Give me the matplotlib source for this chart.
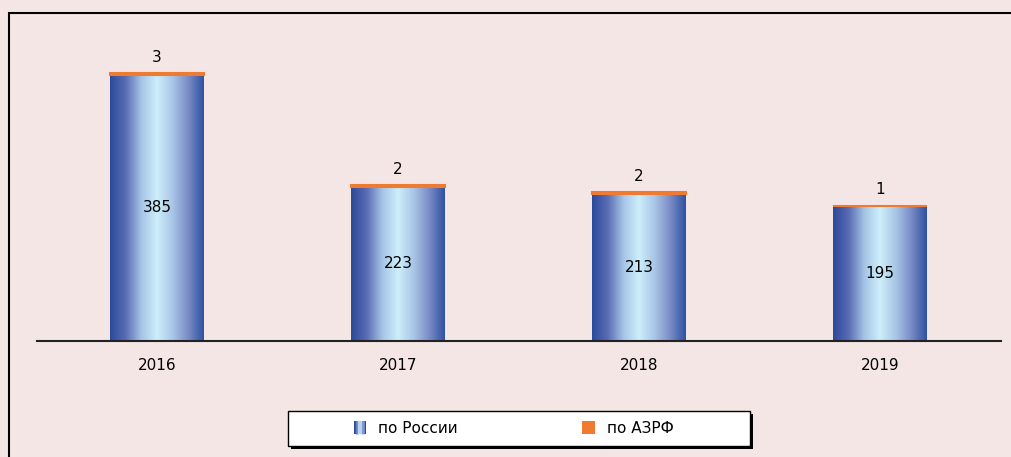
import numpy as np
import matplotlib
matplotlib.use("Agg")
import matplotlib.pyplot as plt
from matplotlib.colors import LinearSegmentedColormap
from matplotlib.patches import Rectangle
from matplotlib.legend_handler import HandlerBase

years = ["2016", "2017", "2018", "2019"]
russia = [385, 223, 213, 195]
azrf = [3, 2, 2, 1]
labels = ["по России", "по АЗРФ"]

W, H = 1011, 457
BG = "#F5E6E6"
ORANGE = "#F07A30"
grad_cmap = LinearSegmentedColormap.from_list(
    "bar", ["#2B4A9B", "#5A6CB3", "#A6C4E6", "#CDEEFA", "#A9C6E6", "#7A8CC6", "#2E52A2"])


class HandlerGradient(HandlerBase):
    def create_artists(self, legend, orig_handle, xdescent, ydescent, width, height, fontsize, trans):
        n = 6
        w = 9.0
        x0 = xdescent + (width - w) / 2
        arts = [Rectangle((x0, -ydescent - 1), w, height + 2, facecolor=grad_cmap(0.0),
                          edgecolor="none", linewidth=0, transform=trans)]
        for i in range(1, n - 1):
            c = grad_cmap(i / (n - 1))
            arts.append(Rectangle((x0 + i * w / n, -ydescent - 1), w / n + 0.5, height + 2,
                                  facecolor=c, edgecolor="none", linewidth=0,
                                  snap=False, transform=trans))
        return arts


class HandlerSquare(HandlerBase):
    def create_artists(self, legend, orig_handle, xdescent, ydescent, width, height, fontsize, trans):
        w = 9.0
        x0 = xdescent + (width - w) / 2
        return [Rectangle((x0, -ydescent - 1), w, height + 2, facecolor=orig_handle.get_facecolor(),
                          edgecolor="none", transform=trans)]


fig = plt.figure(figsize=(W / 100, H / 100), dpi=100)
fig.patch.set_facecolor(BG)
fig.patches.append(Rectangle((9 / W, -0.1), 1.2, (H - 13) / H + 0.1, transform=fig.transFigure,
                             facecolor="none", edgecolor="black", linewidth=1.5, figure=fig))

# legend box with shadow
lx, ly, lw, lh = 288, 411, 462, 35
fig.patches.append(Rectangle(((lx + 3) / W, 1 - (ly + lh + 3) / H), lw / W, lh / H,
                             transform=fig.transFigure, facecolor="black", edgecolor="none", figure=fig))
fig.patches.append(Rectangle((lx / W, 1 - (ly + lh) / H), lw / W, lh / H,
                             transform=fig.transFigure, facecolor="white", edgecolor="black",
                             linewidth=1.0, figure=fig))

ax = fig.add_axes([36.5 / W, 116 / H, 964 / W, 311 / H])
ax.set_facecolor("none")
ymax = 450
x = np.arange(len(years))
bw = 0.39
grad = np.linspace(0, 1, 256).reshape(1, -1)
for xi, r, a in zip(x, russia, azrf):
    ax.imshow(grad, cmap=grad_cmap, extent=[xi - bw / 2, xi + bw / 2, 0, r],
              aspect="auto", zorder=2, interpolation="bilinear")
    ax.bar(xi, a, bw, bottom=r, color=ORANGE, edgecolor=ORANGE, linewidth=1.5, zorder=3)
    ax.text(xi, r / 2, str(r), ha="center", va="center", fontsize=11, zorder=4)
    ax.text(xi, r + a + 12, str(a), ha="center", va="bottom", fontsize=11, zorder=4)

ax.set_xlim(-0.5, len(years) - 0.5)
ax.set_ylim(0, ymax)
ax.set_xticks(x, years, fontsize=11)
ax.tick_params(axis="x", length=0, pad=12)
ax.set_yticks([])
for s in ["top", "right", "left"]:
    ax.spines[s].set_visible(False)
ax.spines["bottom"].set_linewidth(1.5)
ax.spines["bottom"].set_color("#222222")

h1 = Rectangle((0, 0), 1, 1, facecolor="#5A6CB3")
h2 = Rectangle((0, 0), 1, 1, facecolor=ORANGE)
leg = fig.legend([h1, h2], labels, ncol=2, loc="center",
                 bbox_to_anchor=(513 / W, 1 - 428.5 / H),
                 handler_map={h1: HandlerGradient(), h2: HandlerSquare()},
                 frameon=False, fontsize=11, columnspacing=8.06, handlelength=1.0,
                 handletextpad=0.7)

fig.savefig("out.png", dpi=100, facecolor=BG)
